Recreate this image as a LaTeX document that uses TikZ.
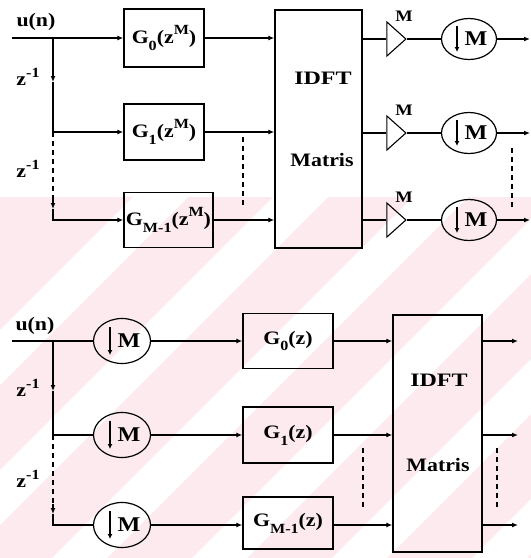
\documentclass[tikz,border=0pt]{standalone}
\usepackage{fontspec}
\setmainfont{Liberation Serif}[FakeStretch=1.15]
\usetikzlibrary{arrows.meta,shapes.geometric}
\definecolor{wm}{RGB}{252,234,238}
\newcommand\mysub[1]{\raisebox{-0.36em}{\fontsize{14}{14}\selectfont #1}}
\newcommand\mysup[1]{\raisebox{0.45em}{\fontsize{14}{14}\selectfont #1}}
\begin{document}
\begin{tikzpicture}[x=1pt,y=-1pt,line width=1.2pt,
  >={Latex[length=6pt,width=5pt]},
  txt/.style={font=\bfseries\fontsize{19}{21}\selectfont, inner sep=0pt},
  smalltxt/.style={font=\bfseries\fontsize{16}{18}\selectfont, inner sep=0pt},
  gbox/.style={draw, line width=1.4pt, rectangle, inner sep=0pt, font=\bfseries\fontsize{19}{21}\selectfont},
  dft/.style={draw, line width=1.4pt, rectangle, inner sep=0pt},
  dec/.style={draw, ellipse, line width=1.2pt, inner sep=0pt, font=\bfseries\fontsize{21}{23}\selectfont},
  amp/.style={draw, isosceles triangle, isosceles triangle stretches, line width=1.1pt, inner sep=0pt, minimum width=34pt, minimum height=19pt},
  darr/.style={line width=1.4pt, -{Latex[length=5pt,width=5pt]}},
  dots/.style={line width=1.6pt, dash pattern=on 5pt off 4pt},
  dsh/.style={line width=1.2pt, dash pattern=on 5pt off 4pt}]
\useasboundingbox (0,0) rectangle (531,558);
\fill[white] (0,0) rectangle (531,558);
% watermark
\begin{scope}
\clip (0,197) rectangle (531,558);
\fill[wm] (0,197) rectangle (531,558);
\foreach \c in {330,470,610,750,890,1030}
  \fill[white] (\c-197,197) -- (\c+55-197,197) -- (\c+55-558,558) -- (\c-558,558) -- cycle;
\end{scope}

% ================= TOP DIAGRAM =================
\coordinate (U) at (12,38);
\coordinate (J1) at (53,38);
\coordinate (Ja) at (53,82);
\coordinate (J2) at (53,132);
\coordinate (Jb) at (53,199);
\coordinate (Jc) at (53,209);
\coordinate (J3) at (53,220);
\node[txt] (un) at (36,22) {u(n)};
\node[txt] (z1) at (28,77) {z\mysup{-1}};
\node[txt] (z2) at (28,169) {z\mysup{-1}};

\node[gbox, minimum width=80pt, minimum height=58pt] (G0) at (164,38) {G\mysub{0}(z\mysup{M})};
\node[gbox, minimum width=80pt, minimum height=56pt] (G1) at (164,132) {G\mysub{1}(z\mysup{M})};
\node[gbox, minimum width=89pt, minimum height=55pt] (G2) at (168.5,220) {G\mysub{M-1}(z\mysup{M})};

\node[dft, minimum width=87pt, minimum height=238pt] (D) at (318.5,129) {};
\node[txt] (Dt) at (323,78) {\scalebox{1.1}[1]{IDFT}};
\node[txt] (Dm) at (322,160) {Matris};

\draw[->] (U) -- (G0.west);
\draw[->] (J1) -- (Ja);
\draw (Ja) -- (J2);
\draw[->] (J2) -- (G1.west);
\draw[dsh] (J2) -- (Jb);
\draw[->] (Jb) -- (Jc);
\draw[->] (Jc) -- (J3) -- (G2.west);

\draw[->] (G0.east) -- (G0.east -| D.west);
\draw[->] (G1.east) -- (G1.east -| D.west);
\draw[->] (G2.east) -- (G2.east -| D.west);
\coordinate (t1) at (243,137);
\coordinate (t2) at (243,205);
\draw[dots] (t1) -- (t2);

\foreach \i/\y in {1/39,2/133,3/220}{
  \node[amp] (A\i) at (394.5,\y) {};
  \node[smalltxt] (M\i) at (404,\y-23) {M};
  \node[dec, minimum width=55pt, minimum height=41pt] (E\i) at (469,\y) {\kern14pt M};
  \draw[darr] ([xshift=-12pt,yshift=13pt]E\i.center) -- ([xshift=-12pt,yshift=-13pt]E\i.center);
  \coordinate (O\i) at (530,\y);
  \draw (D.east |- A\i.west) -- (A\i.west);
  \draw (A\i.apex) -- (E\i.west);
  \draw[->] (E\i.east) -- (O\i);
}
\coordinate (t3) at (512,148);
\coordinate (t4) at (512,207);
\draw[dots] (t3) -- (t4);

% ================= BOTTOM DIAGRAM =================
\coordinate (V) at (12,341);
\coordinate (K1) at (53,341);
\coordinate (Ka) at (53,391);
\coordinate (K2) at (53,435);
\coordinate (Kb) at (53,504);
\coordinate (Kc) at (53,514);
\coordinate (K3) at (53,525);
\node[txt] (vn) at (35,326) {u(n)};
\node[txt] (z3) at (28,388) {z\mysup{-1}};
\node[txt] (z4) at (28,479) {z\mysup{-1}};

\foreach \i/\y in {1/341,2/435,3/525}{
  \node[dec, minimum width=57pt, minimum height=45pt] (C\i) at (122,\y) {\kern14pt M};
  \draw[darr] ([xshift=-12pt,yshift=14pt]C\i.center) -- ([xshift=-12pt,yshift=-14pt]C\i.center);
}
\node[gbox, minimum width=90pt, minimum height=55pt] (H0) at (288,341) {G\mysub{0}(z)};
\node[gbox, minimum width=90pt, minimum height=56pt] (H1) at (288,435) {G\mysub{1}(z)};
\node[gbox, minimum width=90pt, minimum height=52pt] (H2) at (288,523) {G\mysub{M-1}(z)};

\node[dft, minimum width=89pt, minimum height=237pt] (E) at (437.5,433.5) {};
\node[txt] (Et) at (439,380) {\scalebox{1.1}[1]{IDFT}};
\node[txt] (Em) at (438,465) {Matris};

\draw (V) -- (C1.west);
\draw[->] (K1) -- (Ka);
\draw (Ka) -- (K2);
\draw (K2) -- (C2.west);
\draw[dsh] (K2) -- (Kb);
\draw[->] (Kb) -- (Kc);
\draw (Kc) -- (K3) -- (C3.west);

\draw[->] (C1.east) -- (C1.east -| H0.west);
\draw[->] (C2.east) -- (C2.east -| H1.west);
\draw[->] (C3.east) -- (C3.east -| H2.west);

\draw[->] (H0.east |- C1.east) -- (C1.east -| E.west);
\draw[->] (H1.east |- C2.east) -- (C2.east -| E.west);
\draw[->] (H2.east |- C3.east) -- (C3.east -| E.west);

\foreach \i/\y in {1/341,2/435,3/525}{
  \coordinate (P\i) at (518,\y);
  \draw[->] (E.east |- P\i) -- (P\i);
}
\coordinate (b1) at (363,448);
\coordinate (b2) at (363,510);
\draw[dots] (b1) -- (b2);
\coordinate (b3) at (497,448);
\coordinate (b4) at (497,510);
\draw[dots] (b3) -- (b4);
\end{tikzpicture}
\end{document}
